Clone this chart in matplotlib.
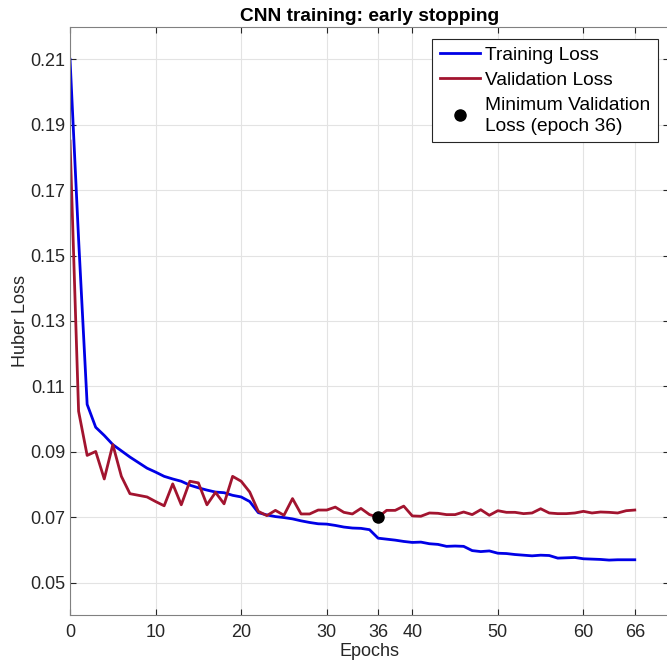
import numpy as np
import matplotlib
matplotlib.use('Agg')
import matplotlib.pyplot as plt

plt.rcParams['font.family'] = ['Liberation Sans', 'DejaVu Sans']

epochs = np.arange(0, 67)

train_loss = [0.210, 0.155, 0.1045, 0.0975, 0.0950, 0.0922, 0.0903, 0.0884, 0.0867, 0.0850,
              0.0838, 0.0825, 0.0817, 0.0810, 0.0798, 0.0790, 0.0783, 0.0777, 0.0775, 0.0767,
              0.0762, 0.0748, 0.0714, 0.0707, 0.0702, 0.0699, 0.0695, 0.0689, 0.0684, 0.0680,
              0.0679, 0.0675, 0.0670, 0.0667, 0.0666, 0.0662, 0.0636, 0.0633, 0.0630, 0.0626,
              0.0623, 0.0624, 0.0619, 0.0617, 0.0611, 0.0612, 0.0611, 0.0598, 0.0595, 0.0597,
              0.0590, 0.0589, 0.0586, 0.0584, 0.0582, 0.0584, 0.0583, 0.0575, 0.0576, 0.0577,
              0.0573, 0.0572, 0.0571, 0.0569, 0.0570, 0.0570, 0.0570]

val_loss = [0.185, 0.1024, 0.0889, 0.0901, 0.0817, 0.0922, 0.0825, 0.0772, 0.0767, 0.0762,
            0.0748, 0.0735, 0.0802, 0.0738, 0.0810, 0.0805, 0.0738, 0.0776, 0.0741, 0.0825,
            0.0810, 0.0777, 0.0718, 0.0705, 0.0721, 0.0706, 0.0757, 0.0710, 0.0710, 0.0722,
            0.0722, 0.0731, 0.0715, 0.0710, 0.0727, 0.0708, 0.0700, 0.0721, 0.0721, 0.0734,
            0.0704, 0.0703, 0.0713, 0.0712, 0.0708, 0.0708, 0.0716, 0.0708, 0.0723, 0.0706,
            0.0720, 0.0715, 0.0715, 0.0711, 0.0713, 0.0726, 0.0713, 0.0711, 0.0711, 0.0713,
            0.0718, 0.0713, 0.0716, 0.0715, 0.0713, 0.0720, 0.0722]

best_epoch = 36
xticks = [0, 10, 20, 30, 36, 40, 50, 60, 66]
yticks = [0.05, 0.07, 0.09, 0.11, 0.13, 0.15, 0.17, 0.19, 0.21]

fig = plt.figure(figsize=(6.67, 6.67), dpi=100)
# right edge of the axes box falls just outside the image, as in the original
ax = fig.add_axes([0.105, 0.0774, 0.898, 0.8828])

ax.plot(epochs, train_loss, color='#0000e6', linewidth=2.0, label='Training Loss')
ax.plot(epochs, val_loss, color='#a2142f', linewidth=2.0, label='Validation Loss')
ax.plot(best_epoch, val_loss[best_epoch], 'o', color='black', markersize=8,
        linestyle='none', label='Minimum Validation\nLoss (epoch 36)')

ax.set_xlim(0, 70)
ax.set_ylim(0.04, 0.22)
ax.set_xticks(xticks)
ax.set_yticks(yticks)
ax.set_yticklabels(['%.2f' % v for v in yticks])
ax.grid(True, color='#e3e3e3', linewidth=0.8)
ax.set_axisbelow(True)
ax.tick_params(direction='in', top=True, right=True, labelsize=13,
               colors='#262626', length=4.5)
ax.tick_params(axis='x', pad=6)
for s in ax.spines.values():
    s.set_color('#808080')

ax.set_title('CNN training: early stopping', fontsize=13.8, fontweight='bold', pad=4)
ax.set_xlabel('Epochs', fontsize=13, color='#262626', labelpad=2)
ax.set_ylabel('Huber Loss', fontsize=13, color='#262626', labelpad=1)

leg = ax.legend(loc='upper right', bbox_to_anchor=(0.9816, 0.979), fontsize=13.8,
                fancybox=False, framealpha=1, edgecolor='#262626', handlelength=2.1,
                borderaxespad=0, handletextpad=0.25, labelspacing=0.4, borderpad=0.4)
leg.get_frame().set_linewidth(0.8)
for t in leg.get_texts():
    t.set_linespacing(1.3)

fig.savefig('out.png', dpi=100)
